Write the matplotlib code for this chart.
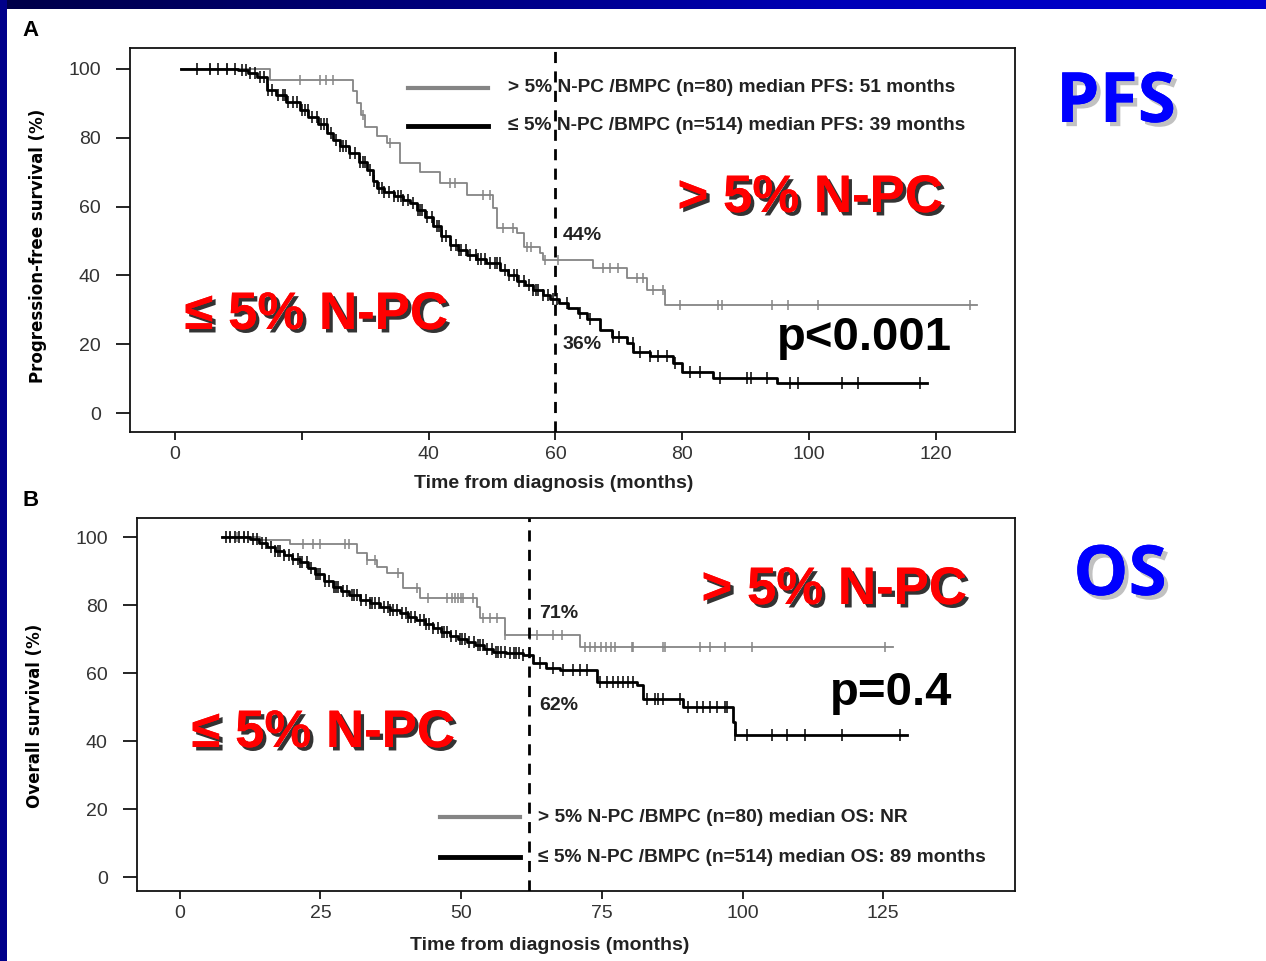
import numpy as np
import matplotlib
matplotlib.use("Agg")
import matplotlib.pyplot as plt
import matplotlib.patheffects as pe
from matplotlib.patches import Rectangle
from matplotlib.colors import LinearSegmentedColormap

# ---------------- data ----------------
# Panel A: progression-free survival, step points (months, %)
pfs_hi_t = [1, 15, 28, 28.7, 29.3, 30, 31.9, 33.4, 35.5, 38.6, 41.8, 46, 50.2, 50.8, 54, 55, 57.6, 58, 66, 71.3, 74.4, 77.3]
pfs_hi_s = [100, 96.8, 93.5, 90, 86.5, 83, 80.5, 78.5, 72.7, 70, 66.9, 63.4, 59.6, 53.8, 52.3, 48.3, 46.5, 44.5, 42.1, 39.2, 35.8, 31.4]
pfs_hi_end = 126.5
pfs_hi_cens = [5.5, 8.2, 19.7, 22.9, 23.8, 24.9, 29.7, 33.9, 43.4, 44.2, 48.6, 49.7, 51.7, 53.3, 55.5, 56.2,
               58.3, 60.4, 67.5, 68.6, 69.9, 72.9, 73.8, 75.4, 77.0, 79.7, 85.6, 86.3, 94.2, 96.7, 101.4, 125.4]

pfs_lo_t = [1, 10, 11.5, 12.9, 14.5, 16, 17.5, 19.7, 21, 22.5, 24, 24.9, 26, 27.5, 29, 30.3, 31.2, 31.9, 33, 34.5,
            36, 37.1, 38.2, 39.4, 40.7, 42, 43.4, 44.7, 46, 47.5, 49, 51.3, 52.5, 54, 55.2, 56.5, 58, 59.2, 60.5,
            62, 63.5, 65, 67, 69, 71.3, 72.3, 75, 78.5, 80, 84.9, 95]
pfs_lo_s = [100, 99.7, 98.7, 97.7, 94, 92.5, 90.5, 88, 86, 84, 81.5, 79.4, 77.5, 75.5, 73, 70.6, 67.5, 65.5, 64.3, 63.2,
            62, 61, 59, 57, 54.5, 51.5, 48.8, 47.3, 45.9, 44.8, 43.6, 41.6, 40, 38.5, 37.2, 35.8, 34.3, 33.2, 32,
            30.5, 29, 27.2, 24.1, 22.2, 20.3, 17.7, 16.5, 14.5, 11.9, 10.2, 8.7]
pfs_lo_end = 118.6
pfs_lo_cens = [3.5, 5.5, 6.8, 8.2, 9.4, 10.6, 11.2, 11.8, 12.6, 13.4, 14.1, 14.7, 15.3, 16.2, 17.0, 17.4, 17.8,
               18.6, 19.3, 20.1, 20.5, 20.9, 21.6, 22.4, 23.1, 23.5, 23.9, 24.6, 25.4, 26.1, 26.5, 26.9, 27.6,
               28.4, 29.2, 29.6, 29.9, 30.7, 31.4, 32.2, 32.6, 33.0, 33.7, 34.5, 35.2, 35.6, 36.0, 36.8, 37.5,
               38.3, 38.7, 39.0, 39.8, 40.6, 41.3, 41.7, 42.1, 42.8, 43.6, 44.4, 44.8, 45.1, 45.9, 46.6, 47.4,
               47.8, 48.2, 48.9, 49.7, 50.4, 50.8, 51.2, 52.0, 52.7, 53.5, 53.9, 54.2, 55.0, 55.8, 56.5, 56.9,
               57.3, 58.0, 58.8, 59.6, 60.3, 61.8, 63.9, 65.5, 69.1, 70.0, 72.2, 73.3, 75.0, 76.2, 77.6, 78.8,
               81.2, 82.8, 86.0, 90.2, 90.8, 93.4, 97.0, 98.3, 105.2, 107.7, 117.5]

# Panel B: overall survival, step points (months, %)
os_hi_t = [7.5, 14.2, 19.6, 31.5, 33.2, 35.0, 36.8, 39.6, 42.7, 52.8, 53.3, 57.8, 71.1]
os_hi_s = [100, 99.0, 97.9, 95.3, 93.2, 91.2, 89.4, 85.0, 82.0, 79.4, 76.2, 71.2, 67.6]
os_hi_end = 126.8
os_hi_cens = [9.0, 10.2, 11.4, 21.9, 23.7, 24.9, 29.3, 30.0, 33.2, 34.7, 38.8, 42.1, 44.1, 47.5, 48.4, 48.9,
              49.4, 49.9, 50.3, 52.1, 53.9, 55.1, 56.3, 57.8, 62.2, 63.5, 66.3, 67.9, 72.0, 72.9, 73.8, 74.9,
              75.8, 76.7, 77.3, 80.3, 80.6, 85.9, 86.2, 92.4, 94.2, 96.9, 101.6, 125.3]

os_lo_t = [7.5, 12.4, 14, 15.5, 17, 18.5, 20, 21.3, 22.7, 24, 25.6, 27.2, 28.6, 30, 32, 33.8, 35.5, 37.3, 39.1,
           40.5, 42, 43.5, 45, 46.5, 48, 49.5, 51, 52.5, 54, 55.6, 58, 61, 62.8, 65, 67.6, 74.1, 81.2, 82.3, 89.4,
           98.3, 98.6]
os_lo_s = [100, 99.5, 98.3, 97, 95.8, 94.7, 93.6, 92.6, 90.8, 89, 87.2, 85.3, 84.2, 83, 81.5, 80.5, 79.5, 78.5,
           77.6, 76.5, 75.5, 74.4, 73.2, 72.1, 71, 70.1, 69.1, 68.2, 67.2, 66.2, 65.8, 65.3, 62.9, 61.5, 60.9,
           57.4, 56.5, 52.4, 50.0, 45.6, 41.8]
os_lo_end = 129.2
os_lo_cens = [8.2, 9.0, 9.8, 10.6, 11.4, 12.2, 13.0, 13.8, 14.6, 15.4, 16.2, 17.0, 17.4, 17.8, 18.6, 19.4, 20.2,
              21.0, 21.4, 21.8, 22.6, 23.4, 24.2, 24.6, 25.0, 25.8, 26.6, 27.4, 27.8, 28.2, 29.0, 29.8, 30.6,
              31.0, 31.4, 32.2, 33.0, 33.8, 34.2, 34.6, 35.4, 36.2, 37.0, 37.4, 37.8, 38.6, 39.4, 40.2, 40.6,
              41.0, 41.8, 42.6, 43.4, 43.8, 44.2, 45.0, 45.8, 46.6, 47.0, 47.4, 48.2, 49.0, 49.8, 50.2, 50.6,
              51.4, 52.2, 53.0, 53.4, 53.8, 54.6, 55.4, 56.2, 56.6, 57.0, 57.8, 58.6, 59.4, 59.8, 60.2, 61.0,
              64.0, 66.3, 68.1, 69.9, 71.1, 72.4, 74.7, 75.9, 77.0, 77.9, 78.8, 79.7, 80.5, 83.0, 84.4, 85.0,
              85.9, 88.9, 90.3, 91.9, 93.0, 94.2, 95.5, 96.9, 97.2, 98.6, 100.8, 105.2, 107.9, 111.1, 117.7, 128.0]

pfs_xticks = [0, 20, 40, 60, 80, 100, 120]
pfs_xticklabels = ["0", "", "40", "60", "80", "100", "120"]
os_xticks = [0, 25, 50, 75, 100, 125]
y_ticks = [0, 20, 40, 60, 80, 100]

legend_pfs = ["> 5% N-PC /BMPC (n=80) median PFS: 51 months",
              "\u2264 5% N-PC /BMPC (n=514) median PFS: 39 months"]
legend_os = ["> 5% N-PC /BMPC (n=80) median OS: NR",
             "\u2264 5% N-PC /BMPC (n=514) median OS: 89 months"]

pfs_mark_t = 60
pfs_mark_labels = [("44%", 51.7), ("36%", 19.8)]
os_mark_t = 62
os_mark_labels = [("71%", 77.4), ("62%", 50.6)]

GRAY = "#858585"
ARIAL = ["Liberation Sans", "DejaVu Sans"]
TXT = "#222222"

W, H = 1266, 961
fig = plt.figure(figsize=(W / 100, H / 100), dpi=100)
fig.patch.set_facecolor("white")


def px(x, y):
    return x / W, 1 - y / H


# slide frame: gradient strip on top, solid strip on left
bg = fig.add_axes([0, 0, 1, 1], zorder=-10)
bg.set_xlim(0, W)
bg.set_ylim(H, 0)
bg.axis("off")
grad = LinearSegmentedColormap.from_list("g", ["#000048", "#00007a", "#0000b8", "#0000d0"])
bg.imshow(np.linspace(0, 1, 256)[None, :], cmap=grad, aspect="auto", extent=[0, W, 9, 0])
bg.add_patch(Rectangle((0, 0), 7, H, color="#00008a", lw=0))


def step_xy(t, s, end):
    xs = list(t) + [end]
    ys = list(s) + [s[-1]]
    return xs, ys


def surv_at(t, s, x):
    idx = np.searchsorted(np.asarray(t), np.asarray(x), side="right") - 1
    idx = np.clip(idx, 0, len(s) - 1)
    return np.asarray(s)[idx]


def draw_curve(ax, t, s, end, cens, color, lw, msize):
    xs, ys = step_xy(t, s, end)
    ax.step(xs, ys, where="post", color=color, lw=lw, zorder=3)
    ax.plot(cens, surv_at(t, s, cens), ls="none", marker="|", ms=msize,
            mew=1.1, color=color, zorder=3)


def style_axes(ax, xticks, xlabels, xlim, ylim, ylabel):
    ax.set_xlim(*xlim)
    ax.set_ylim(*ylim)
    ax.set_xticks(xticks)
    ax.set_xticklabels(xlabels, family=ARIAL, fontsize=14, color="#333333")
    ax.set_yticks(y_ticks)
    ax.set_yticklabels([str(v) for v in y_ticks], family=ARIAL, fontsize=14, color="#333333")
    ax.tick_params(axis="y", length=10, width=1.2, pad=11)
    ax.tick_params(axis="x", length=6, width=1.2, pad=4)
    for sp in ax.spines.values():
        sp.set_linewidth(1.3)
        sp.set_color("#111111")
    ax.set_ylabel(ylabel, family=["DejaVu Sans"], fontweight="bold", fontsize=12)
    ax.set_xlabel("Time from diagnosis (months)", family=ARIAL, fontweight="bold", fontsize=14,
                  color=TXT)


shadow_red = [pe.withSimplePatchShadow(offset=(2.5, -2.5), shadow_rgbFace="black", alpha=0.8), pe.Normal()]
shadow_blue = [pe.withSimplePatchShadow(offset=(3, -3), shadow_rgbFace="#999999", alpha=0.6), pe.Normal()]

# ---------------- Panel A ----------------
axA = fig.add_axes([130 / W, 1 - 432 / H, 885 / W, 384 / H])
style_axes(axA, pfs_xticks, pfs_xticklabels, (-7.1, 132.5), (-5.5, 106.1),
           "Progression-free survival (%)")
axA.xaxis.set_label_coords(0.479, -0.112)
axA.yaxis.set_label_coords(-0.094, 0.485)
draw_curve(axA, pfs_hi_t, pfs_hi_s, pfs_hi_end, pfs_hi_cens, GRAY, 1.3, 7)
draw_curve(axA, pfs_lo_t, pfs_lo_s, pfs_lo_end, pfs_lo_cens, "black", 2.0, 9)
axA.axvline(pfs_mark_t, color="black", lw=2, ls=(0, (4, 3)), zorder=4)
for lab, yv in pfs_mark_labels:
    axA.text(pfs_mark_t + 1.2, yv, lab, fontsize=14, fontweight="bold", family=ARIAL,
             va="center", ha="left", color=TXT)
axA.plot([0.314, 0.4045], [0.896, 0.896], transform=axA.transAxes, color=GRAY, lw=3)
axA.plot([0.314, 0.4045], [0.797, 0.797], transform=axA.transAxes, color="black", lw=3.5)
for yy, s in zip([0.896, 0.797], legend_pfs):
    axA.text(0.427, yy, s, transform=axA.transAxes, fontsize=13.8, fontweight="bold",
             family=ARIAL, va="center", ha="left", color=TXT)

# ---------------- Panel B ----------------
axB = fig.add_axes([137 / W, 1 - 891 / H, 878 / W, 373 / H])
style_axes(axB, os_xticks, [str(v) for v in os_xticks], (-7.6, 148.4), (-4.1, 105.6),
           "Overall survival (%)")
axB.xaxis.set_label_coords(0.470, -0.124)
axB.yaxis.set_label_coords(-0.106, 0.47)
draw_curve(axB, os_hi_t, os_hi_s, os_hi_end, os_hi_cens, GRAY, 1.3, 7)
draw_curve(axB, os_lo_t, os_lo_s, os_lo_end, os_lo_cens, "black", 2.0, 9)
axB.axvline(os_mark_t, color="black", lw=2, ls=(0, (4, 3)), zorder=4)
for lab, yv in os_mark_labels:
    axB.text(os_mark_t + 1.8, yv, lab, fontsize=14, fontweight="bold", family=ARIAL,
             va="center", ha="left", color=TXT)
axB.plot([0.345, 0.436], [0.198, 0.198], transform=axB.transAxes, color=GRAY, lw=3)
axB.plot([0.345, 0.436], [0.091, 0.091], transform=axB.transAxes, color="black", lw=3.5)
for yy, s in zip([0.198, 0.091], legend_os):
    axB.text(0.457, yy, s, transform=axB.transAxes, fontsize=13.8, fontweight="bold",
             family=ARIAL, va="center", ha="left", color=TXT)

# ---------------- slide annotations ----------------
fig.text(*px(22, 30), "A", fontsize=16, fontweight="bold", family=ARIAL, va="center", ha="left")
fig.text(*px(22, 501), "B", fontsize=16, fontweight="bold", family=ARIAL, va="center", ha="left")

for (x, y), s in [((316, 315), "\u2264 5% N-PC"), ((810, 198), "> 5% N-PC"),
                  ((834, 590), "> 5% N-PC"), ((323, 733), "\u2264 5% N-PC")]:
    fig.text(*px(x, y), s, fontsize=38, fontweight="bold", family=ARIAL, color="#ff0000",
             ha="center", va="center", path_effects=shadow_red)

fig.text(*px(864, 338), "p<0.001", fontsize=34, fontweight="bold", family=ARIAL, color="black",
         ha="center", va="center")
fig.text(*px(891, 693), "p=0.4", fontsize=34, fontweight="bold", family=ARIAL, color="black",
         ha="center", va="center")

fig.text(*px(1116, 104), "PFS", fontsize=50, family=["Open Sans", "DejaVu Sans"], fontweight="bold",
         color="#0000ff", ha="center", va="center", path_effects=shadow_blue)
fig.text(*px(1120, 577), "OS", fontsize=50, family=["Open Sans", "DejaVu Sans"], fontweight="bold",
         color="#0000ff", ha="center", va="center", path_effects=shadow_blue)

fig.savefig("out.png", dpi=100, facecolor="white")
